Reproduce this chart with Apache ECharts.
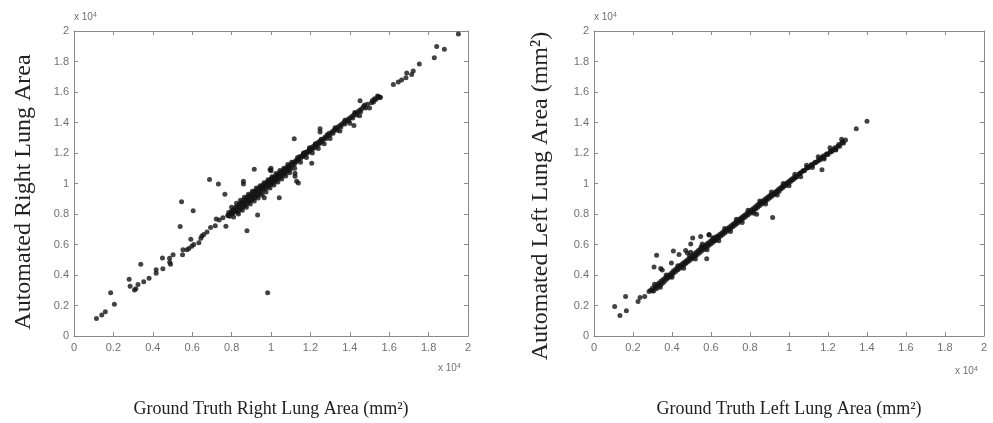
<!DOCTYPE html>
<html>
<head>
<meta charset="utf-8">
<script src="https://cdn.jsdelivr.net/npm/echarts@6/dist/echarts.min.js"></script>
<style>
html,body{margin:0;padding:0;background:#fff;}
#chart{width:993px;height:423px;}
</style>
</head>
<body>
<div id="chart"></div>
<script>
// Tick values (mm^2); labels shown in units of 10^4
const tickValues = [0, 2000, 4000, 6000, 8000, 10000, 12000, 14000, 16000, 18000, 20000];

// Right lung: [ground truth, automated] (mm^2) — sparse points and outliers
const rightSparse = [
[1140,1140],[1410,1380],[1590,1590],[1860,2840],[2050,2090],[2800,3720],[2850,3270],[3070,3010],[3140,3100],[3250,3380],
[3390,4710],[3540,3550],[3810,3780],[4170,4340],[4170,4110],[4490,5120],[4510,4410],[4850,5100],[4860,4840],[4900,4710],
[5030,5330],[5390,7180],[5460,8800],[5510,5330],[5530,5660],[5730,5660],[5830,5740],[5930,6340],[5980,5890],[6050,8220],
[6080,6000],[6340,6110],[6440,6410],[6490,6560],[6590,6650],[6750,6820],[6880,10260],[6930,7120],[7170,7230],[7220,7680],
[7330,9970],[7370,7610],[7560,7760],[7660,9290],[7710,7200],[7850,7910],[8020,8090],[8100,8190],[8600,10140],[8600,9970],
[8780,6900],[9150,10940],[9320,7940],[9660,9060],[9830,2840],[9950,10900],[10000,11000],[10000,10830],[10420,9060],
[11180,12940],[11220,10680],[11220,10470],[11300,10140],[11390,10030],[12070,11330],[12490,13590],[12490,13380],
[14210,13800],[14520,15430],[15410,15740],[15530,15640],[16210,16500],[16460,16650],[16630,16780],[16850,16930],
[16890,17250],[17140,17150],[17220,17370],[17530,17840],[18290,18250],[18410,18980],[18800,18810],[19510,19800]
];

// Right lung: dense band of points near the identity line
const rightBand = [
[7800,7900],[7850,8100],[7900,7850],[7950,8050],[8000,8200],[8050,8000],[8100,8300],[8150,8150],[8200,8450],[8250,8250],
[8300,8100],[8300,8500],[8350,8400],[8400,8250],[8400,8650],[8450,8550],[8500,8400],[8500,8750],[8550,8650],[8600,8500],
[8600,8900],[8650,8750],[8700,8550],[8700,9000],[8750,8850],[8800,8700],[8800,9100],[8850,8950],[8900,8800],[8900,9200],
[8950,9100],[9000,8900],[9000,9300],[9050,9150],[9100,9000],[9100,9450],[9150,9250],[9200,9100],[9200,9500],[9250,9350],
[9300,9200],[9300,9600],[9350,9500],[9400,9300],[9400,9700],[9450,9550],[9500,9400],[9500,9800],[9550,9700],[9600,9550],
[9600,9900],[9650,9800],[9700,9650],[9700,10000],[9750,9900],[9800,9750],[9800,10100],[9850,10000],[9900,9850],[9900,10200],
[9950,10050],[10000,9950],[10000,10300],[10050,10150],[10100,10050],[10100,10400],[10150,10250],[10200,10150],[10200,10450],
[10250,10400],[10300,10250],[10300,10550],[10350,10450],[10400,10350],[10400,10650],[10450,10550],[10500,10450],[10500,10750],
[10550,10650],[10600,10550],[10600,10850],[10650,10750],[10700,10650],[10700,10950],[10750,10850],[10800,10750],[10800,11050],
[10850,10950],[10900,10850],[10900,11150],[10950,11050],[11000,10950],[11000,11250],[11100,11200],[11150,11400],[11200,11300],
[11250,11500],[11300,11450],[11350,11600],[11400,11550],[11450,11750],[11500,11650],[11550,11800],[11600,11750],[11650,11950],
[11700,11850],[11750,12050],[11800,11950],[11850,12100],[11900,12050],[11950,12250],[12000,12150],[12050,12350],[12100,12250],
[12150,12450],[12200,12350],[12250,12550],[12300,12450],[12350,12650],[12400,12550],[12450,12750],[12500,12650],[12550,12850],
[12600,12750],[12700,12950],[12750,13050],[12800,12950],[12900,13150],[12950,13300],[13000,13200],[13100,13400],[13150,13300],
[13200,13500],[13300,13600],[13350,13500],[13400,13700],[13500,13800],[13550,13700],[13600,13900],[13700,14000],[13750,13900],
[13800,14100],[13900,14200],[13950,14100],[14000,14300],[14100,14400],[14150,14300],[14200,14500],[14300,14600],[14350,14500],
[14400,14700],[14500,14800],[14550,14700],[14600,14900],[14700,15050],[14800,14950],[14900,15200],[15100,15300],[15150,15450],
[15200,15350],[15300,15500],[15400,15600],[15450,15700],[15550,15650]
];

// Right lung: points on the outer edges of the band
const rightBandEdge = [
[8000,8450],[8100,7800],[8250,8700],[8350,8000],[8450,8900],[8550,8250],[8650,9100],[8750,8450],[8850,9300],[8950,8650],
[9050,9500],[9150,8850],[9250,9700],[9350,9050],[9450,9850],[9550,9250],[9650,10050],[9750,9450],[9850,10250],[9950,9700],
[10050,10450],[10150,9900],[10250,10650],[10350,10100],[10450,10850],[10550,10300],[10650,11000],[10750,10500],[10850,11250],
[10950,10700],[11050,11400],[11200,11000],[11350,11700],[11500,11400],[11650,12000],[11800,11700],[11950,12350],[12100,12000],
[12250,12600],[12400,12300],[12550,12900],[12700,12600],[12850,13200],[13000,12950],[13250,13650],[13500,13450],[13750,14150],
[14000,13950],[14250,14650],[14500,14450],[14750,15150],[15000,14950],[15250,15550]
];

// Left lung: sparse points and outliers
const leftSparse = [
[1060,1940],[1330,1340],[1620,2590],[1660,1660],[2260,2270],[2360,2520],[2600,2590],[2820,2910],[2990,2960],[3080,4530],
[3210,5290],[3160,3200],[3420,4420],[3500,4320],[3970,4790],[4070,5570],[4360,5350],[4700,5610],[4790,5440],[4960,6040],
[5060,6430],[4960,5500],[5470,6520],[5550,6040],[5780,5070],[5900,6620],[6150,6260],[6320,6470],[5900,6650],[8340,7980],
[9160,7770],[11690,10900],[13450,13590],[14000,14090]
];

// Left lung: dense band of points near the identity line
const leftBand = [
[2900,3000],[3000,3150],[3050,2950],[3150,3250],[3200,3100],[3250,3400],[3300,3250],[3350,3500],[3400,3350],[3450,3600],
[3500,3450],[3550,3700],[3600,3550],[3650,3800],[3700,3700],[3750,3900],[3800,3800],[3850,4000],[3900,3900],[3950,4100],
[4000,4000],[4050,4250],[4100,4150],[4150,4350],[4200,4250],[4250,4450],[4300,4350],[4350,4550],[4400,4450],[4450,4650],
[4500,4550],[4550,4750],[4600,4650],[4650,4850],[4700,4750],[4750,4950],[4800,4850],[4850,5050],[4900,4950],[4950,5150],
[5000,5050],[5050,5300],[5100,5150],[5150,5400],[5200,5250],[5250,5500],[5300,5350],[5350,5600],[5400,5450],[5450,5700],
[5500,5550],[5550,5800],[5600,5650],[5650,5900],[5700,5750],[5750,6000],[5800,5850],[5850,6100],[5900,5950],[5950,6200],
[6000,6050],[6050,6300],[6100,6150],[6150,6400],[6200,6250],[6250,6500],[6300,6350],[6350,6550],[6400,6450],[6450,6650],
[6500,6550],[6550,6750],[6600,6650],[6650,6850],[6700,6750],[6750,6950],[6800,6850],[6850,7050],[6900,6950],[6950,7150],
[7000,7050],[7050,7250],[7100,7150],[7150,7350],[7200,7250],[7250,7450],[7300,7350],[7350,7550],[7400,7450],[7450,7650],
[7500,7550],[7550,7750],[7600,7650],[7650,7850],[7700,7750],[7750,7950],[7800,7850],[7850,8050],[7900,7950],[7950,8150],
[8000,8050],[8050,8250],[8100,8150],[8150,8350],[8200,8250],[8250,8450],[8300,8350],[8350,8550],[8400,8450],[8450,8650],
[8500,8550],[8550,8750],[8600,8650],[8650,8850],[8700,8750],[8750,8950],[8800,8850],[8850,9050],[8900,8950],[8950,9150],
[9000,9050],[9050,9250],[9100,9150],[9150,9300],[9200,9250],[9250,9400],[9300,9350],[9350,9500],[9400,9450],[9450,9600],
[9500,9500],[9550,9700],[9600,9650],[9650,9800],[9700,9750],[9750,9900],[9800,9850],[9850,10000],[9900,9950],[9950,10100],
[10000,10050],[10050,10200],[10100,10150],[10150,10300],[10200,10250],[10250,10400],[10300,10350],[10350,10450],[10400,10450],
[10500,10600],[10550,10650],[10600,10700],[10700,10800],[10750,10850],[10800,10850],[10900,11000],[10950,11050],[11000,11050],
[11100,11150],[11150,11250],[11200,11200],[11300,11350],[11350,11400],[11400,11400],[11500,11500],[11550,11600],[11600,11550],
[11700,11700],[11750,11800],[11800,11700],[11900,11900],[11950,11950],[12000,11900],[12100,12050],[12150,12150],[12200,12100],
[12300,12250],[12350,12350],[12400,12250],[12500,12450],[12550,12550],[12600,12450],[12700,12650],[12750,12750],[12800,12650],
[12900,12850]
];

// Left lung: points on the outer edges of the band
const leftBandEdge = [
[3100,3400],[3400,3200],[3700,4000],[4000,3850],[4300,4600],[4600,4450],[4900,5250],[5200,5050],[5500,5850],[5800,5650],
[6100,6450],[6400,6250],[6700,7050],[7000,6850],[7300,7650],[7600,7450],[7900,8250],[8200,8050],[8500,8850],[8800,8650],
[9100,9450],[9400,9250],[9700,10000],[10000,9850],[10300,10600],[10600,10450],[10900,11200],[11200,11050],[11500,11750],
[11800,11600],[12100,12350],[12400,12200],[12700,12900]
];

const rightData = rightSparse.concat(rightBand, rightBandEdge);
const leftData = leftSparse.concat(leftBand, leftBandEdge);

const AX = '#8a8a8a';
const LBL = '#707070';
const fmt = v => String(+(v / 10000).toFixed(1));

function xAx(grid, pos, name) {
  return {
    type: 'value', gridIndex: grid, position: pos, min: 0, max: 20000, interval: 2000,
    axisLine: {show: true, onZero: false, lineStyle: {color: AX, width: 1}},
    axisTick: {show: true, inside: true, length: 4, lineStyle: {color: AX}},
    axisLabel: pos === 'bottom' ? {show: true, formatter: fmt, color: LBL, fontSize: 11, fontFamily: 'Liberation Sans', margin: 6} : {show: false},
    splitLine: {show: false},
    name: name || '', nameLocation: 'middle', nameGap: 64,
    nameTextStyle: {color: '#222', fontSize: 18, fontFamily: 'Liberation Serif'}
  };
}
function yAx(grid, pos) {
  return {
    type: 'value', gridIndex: grid, position: pos, min: 0, max: 20000, interval: 2000,
    axisLine: {show: true, onZero: false, lineStyle: {color: AX, width: 1}},
    axisTick: {show: true, inside: true, length: 4, lineStyle: {color: AX}},
    axisLabel: pos === 'left' ? {show: true, formatter: fmt, color: LBL, fontSize: 11, fontFamily: 'Liberation Sans', margin: 5} : {show: false},
    splitLine: {show: false}
  };
}
const sciRich = {a: {fontSize: 10, fill: LBL, fontFamily: 'Liberation Sans', verticalAlign: 'bottom'}, b: {fontSize: 7, fill: LBL, fontFamily: 'Liberation Sans', verticalAlign: 'top'}};
function sci(x, y) { return {type: 'text', left: x, top: y, style: {text: '{a|x 10}{b|4}', rich: sciRich}}; }
function yTitle(x, y, txt) {
  return {type: 'text', x: x, y: y, rotation: Math.PI / 2,
    style: {text: txt, fill: '#222', fontSize: 24, fontFamily: 'Liberation Serif', align: 'center', verticalAlign: 'middle'}};
}

const chart = echarts.init(document.getElementById('chart'), null, {renderer: 'canvas'});
chart.setOption({
  animation: false,
  backgroundColor: '#fff',
  grid: [
    {left: 74, top: 31, width: 394, height: 309},
    {left: 594, top: 31, width: 390, height: 309}
  ],
  xAxis: [
    xAx(0, 'bottom', 'Ground Truth Right Lung Area (mm²)'), xAx(0, 'top'),
    xAx(1, 'bottom', 'Ground Truth Left Lung Area (mm²)'), xAx(1, 'top')
  ],
  yAxis: [yAx(0, 'left'), yAx(0, 'right'), yAx(1, 'left'), yAx(1, 'right')],
  series: [
    {type: 'scatter', xAxisIndex: 0, yAxisIndex: 0, data: rightData, symbol: 'circle', symbolSize: 5,
     itemStyle: {color: '#141414'}},
    {type: 'scatter', xAxisIndex: 2, yAxisIndex: 2, data: leftData, symbol: 'circle', symbolSize: 5,
     itemStyle: {color: '#141414'}}
  ],
  graphic: [
    sci(74, 12), sci(594, 12), sci(438, 363), sci(955, 366),
    yTitle(24, 192, 'Automated Right Lung Area'),
    yTitle(541, 196, 'Automated Left Lung Area (mm²)')
  ]
});
</script>
</body>
</html>
